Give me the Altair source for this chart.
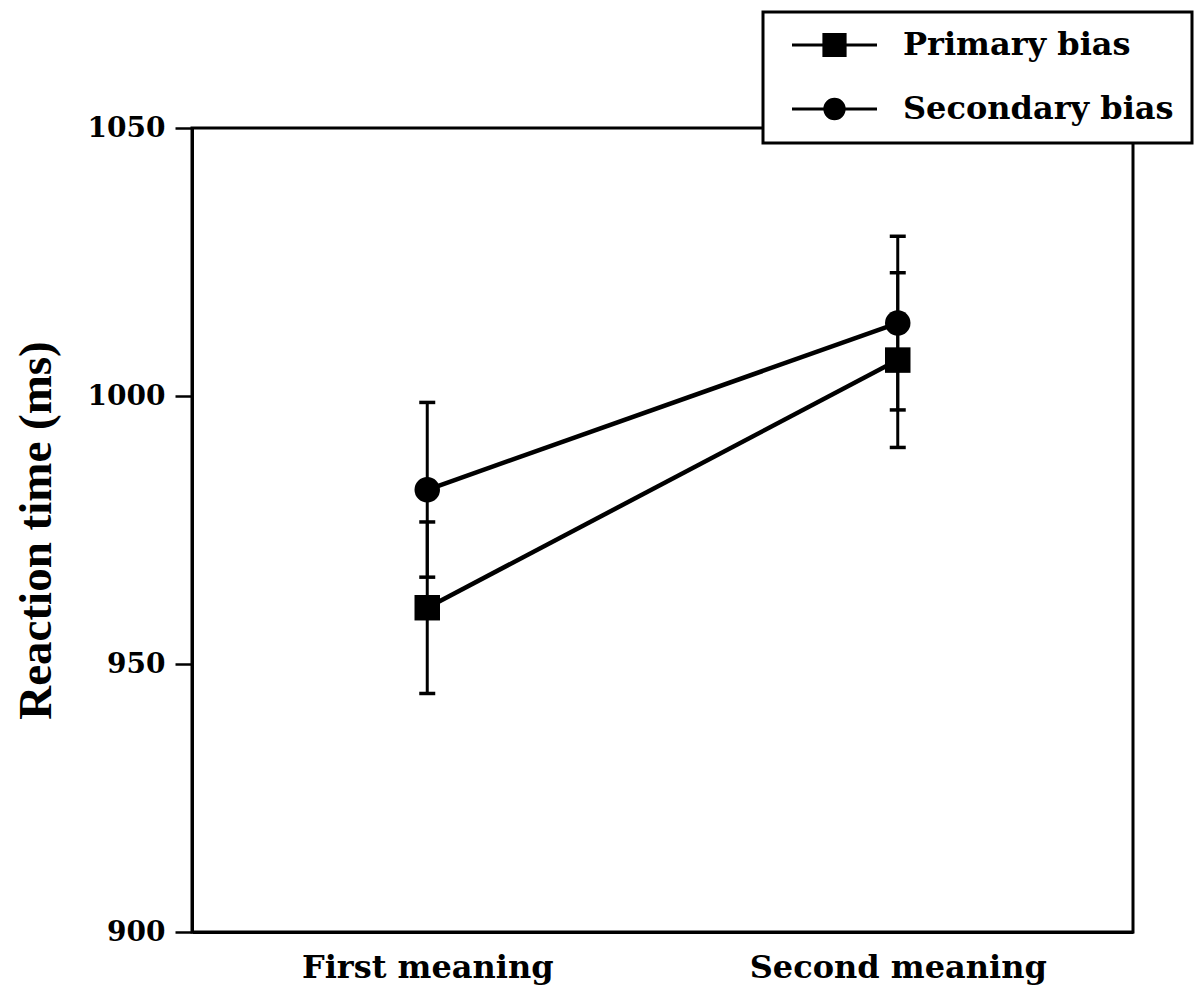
import altair as alt
import pandas as pd

categories = ["First meaning", "Second meaning"]
series_names = ["Primary bias", "Secondary bias"]
primary_rt = [960.5, 1006.7]
primary_err = [16.0, 16.3]
secondary_rt = [982.5, 1013.6]
secondary_err = [16.3, 16.2]
y_ticks = [900, 950, 1000, 1050]

rows = []
for c, v, e in zip(categories, primary_rt, primary_err):
    rows.append({"cat": c, "series": series_names[0], "rt": v, "err": e})
for c, v, e in zip(categories, secondary_rt, secondary_err):
    rows.append({"cat": c, "series": series_names[1], "rt": v, "err": e})
df = pd.DataFrame(rows)

SERIF = "DejaVu Serif"

x_enc = alt.X("cat:N", sort=categories,
              scale=alt.Scale(type="point", padding=0.5),
              axis=alt.Axis(title=None, ticks=False, labelAngle=0, labelPadding=20, labelLimit=0,
                            labelFont=SERIF, labelFontSize=32, labelFontWeight="bold",
                            labelColor="black", domainColor="black", domainWidth=3))
y_scale = alt.Scale(domain=[900, 1050], nice=False, zero=False)
y_axis = alt.Axis(title="Reaction time (ms)", values=y_ticks, grid=False, format="d",
                  tickSize=17, tickWidth=2.5, tickColor="black", labelPadding=10, labelLimit=0,
                  labelFont=SERIF, labelFontSize=28, labelFontWeight="bold", labelColor="black",
                  titleFont="Liberation Serif", titleFontSize=47, titleFontWeight="bold",
                  titleColor="black", titlePadding=27, titleLimit=0,
                  domainColor="black", domainWidth=3)

base = alt.Chart(df).transform_calculate(lo="datum.rt - datum.err", hi="datum.rt + datum.err")

lines = base.mark_line(color="black", strokeWidth=4.5).encode(
    x=x_enc, y=alt.Y("rt:Q", scale=y_scale, axis=y_axis), detail="series:N")

rules = base.mark_rule(color="black", strokeWidth=3, opacity=1).encode(
    x=alt.X("cat:N", sort=categories), y=alt.Y("lo:Q"), y2="hi:Q")

caps_lo = base.mark_tick(color="black", orient="horizontal", size=16, thickness=3.5, opacity=1).encode(
    x=alt.X("cat:N", sort=categories), y=alt.Y("lo:Q"))
caps_hi = base.mark_tick(color="black", orient="horizontal", size=16, thickness=3.5, opacity=1).encode(
    x=alt.X("cat:N", sort=categories), y=alt.Y("hi:Q"))

# legend glyphs: a line with a solid marker (marker filled by stroked sub-paths)
sq = ("M-1,0H1M-0.247,-0.247H0.247V0.247H-0.247Z"
      "M-0.247,-0.18H0.247M-0.247,-0.11H0.247M-0.247,-0.04H0.247"
      "M-0.247,0.04H0.247M-0.247,0.11H0.247M-0.247,0.18H0.247")
ci = ("M-1,0H1"
      "M0.225,0A0.225,0.225,0,1,1,-0.225,0A0.225,0.225,0,1,1,0.225,0Z"
      "M0.16,0A0.16,0.16,0,1,1,-0.16,0A0.16,0.16,0,1,1,0.16,0Z"
      "M0.10,0A0.10,0.10,0,1,1,-0.10,0A0.10,0.10,0,1,1,0.10,0Z"
      "M0.04,0A0.04,0.04,0,1,1,-0.04,0A0.04,0.04,0,1,1,0.04,0Z")

points = base.mark_point(filled=True, color="black", size=650, opacity=1).encode(
    x=alt.X("cat:N", sort=categories), y=alt.Y("rt:Q"),
    shape=alt.Shape("series:N", scale=alt.Scale(domain=series_names, range=["square", "circle"]),
                    legend=None))

legend_layer = base.mark_point(filled=False, color="black", strokeWidth=3,
                               opacity=0).encode(
    x=alt.X("cat:N", sort=categories), y=alt.Y("rt:Q"),
    shape=alt.Shape("series:N", scale=alt.Scale(domain=series_names, range=[sq, ci]),
                    legend=alt.Legend(title=None, orient="none", legendX=571, legendY=-116,
                                      padding=18, symbolOffset=9, labelOffset=24,
                                      clipHeight=30, rowPadding=32, symbolSize=7225,
                                      symbolOpacity=1, symbolFillColor="black",
                                      symbolStrokeColor="black", symbolStrokeWidth=3.2,
                                      labelFont=SERIF, labelFontSize=32, labelFontWeight="bold",
                                      labelColor="black", labelLimit=0, strokeColor="black",
                                      fillColor="white")))

chart = alt.layer(lines, rules, caps_lo, caps_hi, points, legend_layer).resolve_scale(
    shape="independent"
).properties(
    width=941, height=804,
    padding={"left": 184, "top": 120, "right": 63, "bottom": 62},
    autosize=alt.AutoSizeParams(type="none"),
    background="white",
).configure_view(stroke="black", strokeWidth=3).configure_legend(strokeWidth=3)

chart.save("out.html", embed_options={"renderer": "svg", "actions": False})
